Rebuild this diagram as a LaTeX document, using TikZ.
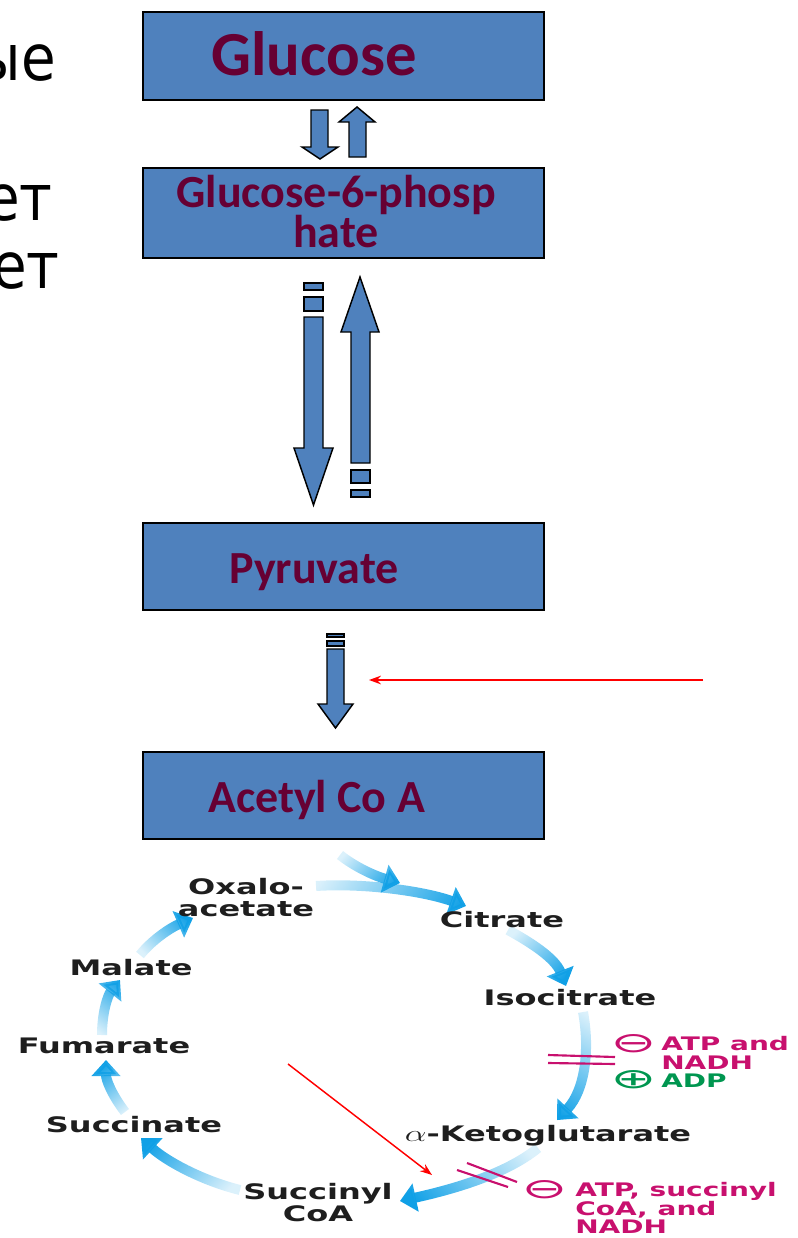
\documentclass[tikz,border=0pt]{standalone}
\usepackage{fontspec}
\usepackage{tikz}
\usetikzlibrary{arrows.meta,fadings}
\setmainfont{DejaVu Sans}
\newfontfamily\cyrfont[FakeStretch=0.88]{DejaVu Sans}
\newfontfamily\boxfont{Carlito}
\newfontfamily\cycfont[FakeStretch=1.5]{DejaVu Sans}

\definecolor{boxblue}{RGB}{79,129,189}
\definecolor{boxtext}{RGB}{102,0,51}
\definecolor{cycblue}{RGB}{16,160,230}
\definecolor{inhib}{RGB}{200,16,110}
\definecolor{activ}{RGB}{0,150,80}
\definecolor{cyctext}{RGB}{30,30,30}

\tikzfading[name=cycfade, left color=transparent!85, right color=transparent!0]

\begin{document}
\begin{tikzpicture}[x=0.75pt,y=0.75pt,yscale=-1,xscale=1,
  pbox/.style={draw=black,line width=1.3pt,fill=boxblue,minimum width=300.75pt,inner sep=0pt},
  ptext/.style={text=boxtext,inner sep=0pt,align=center,font=\boxfont\bfseries\fontsize{34.5}{30}\selectfont},
  blockarrow/.style={draw=black,line width=1.1pt,fill=boxblue},
  cyrtext/.style={inner sep=0pt,font=\cyrfont\fontsize{48}{58}\selectfont},
  cyclabel/.style={text=cyctext,inner sep=0pt,align=center,font=\cycfont\bfseries\fontsize{16}{16.5}\selectfont},
  cycarrow/.style={draw=cycblue,line width=7.5pt,-{Triangle[length=12pt,width=21pt]},path fading=cycfade},
  regtext/.style={inner sep=0pt,align=left,font=\cycfont\bfseries\fontsize{14}{13.8}\selectfont},
  regsign/.style={inner sep=0pt,font=\cycfont\fontsize{21}{21}\selectfont},
  redarrow/.style={draw=red,line width=1.1pt,-{Stealth[length=9pt,width=6.5pt]}},
  bars/.style={draw=inhib,line width=1.6pt}
]
\useasboundingbox (0,0) rectangle (798,1238);

% Left text (cut at the page edge)
\node[cyrtext,anchor=base east] (ln1) at (56,80) {ые};
\node[cyrtext,anchor=base east] (ln2) at (53,220) {ет};
\node[cyrtext,anchor=base east] (ln3) at (60,288) {ует};

% Boxes
\node[pbox,minimum height=66pt] (glu) at (343.5,56) {};
\node[pbox,minimum height=67.5pt] (g6p) at (343.5,213) {};
\node[pbox,minimum height=65.25pt] (pyr) at (343.5,566.5) {};
\node[pbox,minimum height=65.25pt] (aca) at (343.5,795.5) {};

% Box texts
\node[ptext,anchor=base,font=\boxfont\bfseries\fontsize{47}{56}\selectfont] (glutxt) at (314,75) {Glucose};
\node[ptext] (g6ptxt) at (336,212) {Glucose-6-phosp\\hate};
\node[ptext,anchor=base] (pyrtxt) at (314,583) {Pyruvate};
\node[ptext,anchor=base] (acatxt) at (316.5,812) {Acetyl Co A};

% Block arrows
\draw[blockarrow] (311,110) -- (328,110) -- (328,147) -- (338,147) -- (320,159) -- (302,147) -- (311,147) -- cycle;
\draw[blockarrow] (349,157) -- (366,157) -- (366,122) -- (375,122) -- (357,107) -- (339,122) -- (349,122) -- cycle;

\draw[blockarrow] (304,283) rectangle (323,290);
\draw[blockarrow] (304,297) rectangle (323,311);
\draw[blockarrow] (304,317) -- (323,317) -- (323,448) -- (333,448) -- (313.5,505) -- (294,448) -- (304,448) -- cycle;

\draw[blockarrow] (351,463) -- (351,332) -- (341,332) -- (360,277) -- (379,332) -- (370,332) -- (370,463) -- cycle;
\draw[blockarrow] (351,470) rectangle (370,483);
\draw[blockarrow] (351,490) rectangle (370,497);

\draw[blockarrow] (327,634) rectangle (344,637);
\draw[blockarrow] (327,641) rectangle (344,646);
\draw[blockarrow] (327,649) -- (344,649) -- (344,704) -- (353,704) -- (335.5,728) -- (318,704) -- (327,704) -- cycle;

% Red pointer
\coordinate (ptrA) at (703,680);
\coordinate (ptrAend) at (369,680);
\draw[redarrow] (ptrA) -- (ptrAend);

% Cycle arrows
\draw[cycarrow,fading angle=-25] (340,855) .. controls (355,867) and (375,876) .. (400,883);
\draw[cycarrow,fading angle=-8] (316,886) .. controls (360,883) and (420,890) .. (466,906);
\draw[cycarrow,fading angle=-44] (508,930) .. controls (530,942) and (555,958) .. (566,986);
\draw[cycarrow,fading angle=-104] (583,1012) .. controls (590,1050) and (585,1090) .. (557,1120);
\draw[cycarrow,fading angle=-159] (538,1148) .. controls (505,1175) and (450,1190) .. (400,1201);
\draw[cycarrow,fading angle=152] (240,1190) .. controls (200,1180) and (165,1160) .. (141,1138);
\draw[cycarrow,fading angle=110] (125,1112) .. controls (112,1095) and (106,1080) .. (106,1060);
\draw[cycarrow,fading angle=72] (102,1035) .. controls (102,1012) and (108,995) .. (120,980);
\draw[cycarrow,fading angle=35] (140,955) .. controls (152,940) and (170,928) .. (193,918);

% Cycle labels
\node[cyclabel] (oxa) at (246,898) {Oxalo-\\acetate};
\node[cyclabel,anchor=base] (cit) at (502,927) {Citrate};
\node[cyclabel,anchor=base] (iso) at (570,1005) {Isocitrate};
\node[cyclabel,anchor=base] (akg) at (548,1141) {\scalebox{1.5}[1]{$\alpha$}-Ketoglutarate};
\node[cyclabel] (sca) at (318,1203) {Succinyl\\CoA};
\node[cyclabel,anchor=base] (suc) at (134,1132) {Succinate};
\node[cyclabel,anchor=base] (fum) at (104,1053) {Fumarate};
\node[cyclabel,anchor=base] (mal) at (131,975) {Malate};

% Regulation
\draw[bars] (548,1055) -- (615,1057);
\draw[bars] (548,1063) -- (615,1064);
\draw[bars] (467,1163) -- (517,1182);
\draw[bars] (457,1170) -- (508,1187);

\node[regsign,text=inhib] (minusA) at (633.5,1043.5) {\scalebox{1.3}[1]{⊖}};
\node[regtext,text=inhib,anchor=north west] (inhA) at (661,1036.5) {ATP and\\NADH};
\node[regsign,text=activ] (plusA) at (633.5,1080) {\scalebox{1.3}[1]{⊕}};
\node[regtext,text=activ,anchor=base west] (actA) at (661,1087) {ADP};

\node[regsign,text=inhib] (minusB) at (544.5,1190) {\scalebox{1.3}[1]{⊖}};
\node[regtext,text=inhib,anchor=north west] (inhB) at (575,1182.5) {ATP, succinyl\\CoA, and\\NADH};

% Red pointer
\coordinate (ptrB) at (288,1064);
\coordinate (ptrBend) at (432,1175);
\draw[redarrow] (ptrB) -- (ptrBend);

\end{tikzpicture}
\end{document}
